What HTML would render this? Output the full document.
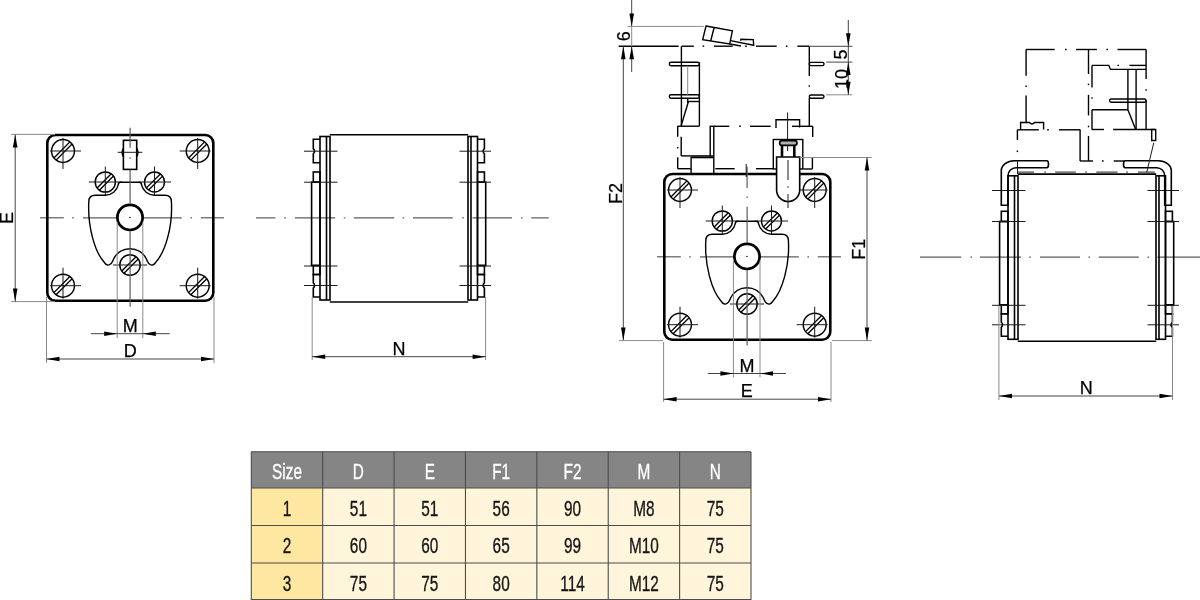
<!DOCTYPE html>
<html><head><meta charset="utf-8"><style>
html,body{margin:0;padding:0;background:#fff;width:1200px;height:600px;overflow:hidden}
svg{position:absolute;left:0;top:0;will-change:transform}
.k{stroke:#000;stroke-width:1.4;fill:none}
.ks{stroke:#000;stroke-width:1.45;fill:none}
.kl{stroke:#000;stroke-width:1.35;fill:none}
.kt{stroke:#000;stroke-width:2.6;fill:none}
.km{stroke:#000;stroke-width:1.6;fill:none}
.kw{stroke:#000;stroke-width:1.6;fill:#fff}
.x{stroke:#1a1a1a;stroke-width:1;fill:none}
.c{stroke:#5c5c5c;stroke-width:1.2;fill:none}
.g{stroke:#8a8a8a;stroke-width:1;fill:none}
.d{stroke:#444;stroke-width:1;fill:none}
.ar{fill:#000;stroke:none}
.t{font-family:"Liberation Sans",sans-serif;fill:#000;stroke:#000;stroke-width:0.25}
</style></head><body>
<svg width="1200" height="600" viewBox="0 0 1200 600">
<defs><g id="face">
<line class="c" x1="40" y1="217.8" x2="63.8" y2="217.8"/>
<line class="c" x1="72.2" y1="217.8" x2="73.8" y2="217.8"/>
<line class="c" x1="83" y1="217.8" x2="181.8" y2="217.8"/>
<line class="c" x1="190.4" y1="217.8" x2="192" y2="217.8"/>
<line class="c" x1="200.8" y1="217.8" x2="224" y2="217.8"/>
<rect class="kt" x="47.3" y="135" width="166" height="165.7" rx="8" ry="8"/>
<circle class="ks" cx="63" cy="151" r="11.45"/>
<line class="kl" x1="72.12" y1="144.07" x2="56.07" y2="160.12"/>
<line class="kl" x1="69.93" y1="141.88" x2="53.88" y2="157.93"/>
<line class="x" x1="50" y1="151" x2="81" y2="151"/>
<line class="x" x1="63" y1="138" x2="63" y2="169"/>
<circle class="ks" cx="197.7" cy="151" r="11.45"/>
<line class="kl" x1="206.82" y1="144.07" x2="190.77" y2="160.12"/>
<line class="kl" x1="204.63" y1="141.88" x2="188.58" y2="157.93"/>
<line class="x" x1="179.7" y1="151" x2="210.7" y2="151"/>
<line class="x" x1="197.7" y1="138" x2="197.7" y2="169"/>
<circle class="ks" cx="63" cy="285.7" r="11.45"/>
<line class="kl" x1="72.12" y1="278.77" x2="56.07" y2="294.82"/>
<line class="kl" x1="69.93" y1="276.58" x2="53.88" y2="292.63"/>
<line class="x" x1="50" y1="285.7" x2="81" y2="285.7"/>
<line class="x" x1="63" y1="267.7" x2="63" y2="298.7"/>
<circle class="ks" cx="197.7" cy="285.7" r="11.45"/>
<line class="kl" x1="206.82" y1="278.77" x2="190.77" y2="294.82"/>
<line class="kl" x1="204.63" y1="276.58" x2="188.58" y2="292.63"/>
<line class="x" x1="179.7" y1="285.7" x2="210.7" y2="285.7"/>
<line class="x" x1="197.7" y1="267.7" x2="197.7" y2="298.7"/>
<circle class="ks" cx="105.3" cy="182" r="10.1"/>
<line class="kl" x1="113.45" y1="176.04" x2="99.34" y2="190.15"/>
<line class="kl" x1="111.26" y1="173.85" x2="97.15" y2="187.96"/>
<line class="x" x1="88.8" y1="182" x2="121.8" y2="182"/>
<line class="x" x1="105.3" y1="166.5" x2="105.3" y2="195.5"/>
<circle class="ks" cx="154.5" cy="182" r="10"/>
<line class="kl" x1="162.58" y1="176.11" x2="148.61" y2="190.08"/>
<line class="kl" x1="160.39" y1="173.92" x2="146.42" y2="187.89"/>
<line class="x" x1="138" y1="182" x2="171" y2="182"/>
<line class="x" x1="154.5" y1="166.5" x2="154.5" y2="195.5"/>
<circle class="ks" cx="130" cy="265" r="10.2"/>
<line class="kl" x1="138.22" y1="258.97" x2="123.97" y2="273.22"/>
<line class="kl" x1="136.03" y1="256.78" x2="121.78" y2="271.03"/>
<line class="x" x1="113" y1="265" x2="147" y2="265"/>
<path class="k" d="M120.5,182.2 L139.2,182.2 Q141.5,182.2 141.5,184.7 A13.3 13.3 0 0 0 154.5,195.3 L165,195.3 Q171.4,195.3 171.4,201.8 C172.9,227 165,252 156,262 Q152.5,267.5 148.6,263.2 Q147,261.2 146.3,258.8 A18.2 18.2 0 0 0 113.7,258.8 Q113,261.2 111.4,263.2 Q107.5,267.5 104,262 C95,252 87.5,227 88.8,201.8 Q88.8,195.3 95.2,195.3 L105.3,195.3 A13.3 13.3 0 0 0 118.3,184.7 Q118.3,182.2 120.5,182.2 Z"/>
<circle cx="130" cy="217.4" r="12.6" fill="#fff" stroke="#000" stroke-width="2.7"/>
<line class="x" x1="129.2" y1="217.4" x2="130.8" y2="217.4"/>
</g></defs>
<use href="#face"/>
<rect class="km" x="123.4" y="140.3" width="13.3" height="29.1"/>
<line class="x" x1="117.7" y1="152.3" x2="142.3" y2="152.3"/>
<path class="k" d="M123.4,148.3 Q120.8,152.3 123.4,156.7 M136.7,148.3 Q139.3,152.3 136.7,156.7"/>
<line class="c" x1="130.1" y1="127.7" x2="130.1" y2="147.7"/>
<line class="c" x1="130.1" y1="157.2" x2="130.1" y2="158.8"/>
<line class="c" x1="130.1" y1="169.4" x2="130.1" y2="204"/>
<line class="c" x1="130.1" y1="230.8" x2="130.1" y2="306.7"/>
<line class="c" x1="256" y1="217.9" x2="275.5" y2="217.9"/>
<line class="c" x1="284.2" y1="217.9" x2="285.8" y2="217.9"/>
<line class="c" x1="295" y1="217.9" x2="335.2" y2="217.9"/>
<line class="c" x1="343.8" y1="217.9" x2="345.4" y2="217.9"/>
<line class="c" x1="353.9" y1="217.9" x2="394.2" y2="217.9"/>
<line class="c" x1="402.7" y1="217.9" x2="404.3" y2="217.9"/>
<line class="c" x1="413" y1="217.9" x2="452.7" y2="217.9"/>
<line class="c" x1="462.2" y1="217.9" x2="463.8" y2="217.9"/>
<line class="c" x1="472.5" y1="217.9" x2="512" y2="217.9"/>
<line class="c" x1="520.9" y1="217.9" x2="522.5" y2="217.9"/>
<line class="c" x1="531.2" y1="217.9" x2="548.8" y2="217.9"/>
<line class="g" x1="117.2" y1="222" x2="117.2" y2="338"/>
<line class="g" x1="142.8" y1="222" x2="142.8" y2="338"/>
<line class="g" x1="11" y1="134.4" x2="55" y2="134.4"/>
<line class="g" x1="11" y1="301.6" x2="55" y2="301.6"/>
<line class="d" x1="15.2" y1="134.6" x2="15.2" y2="301.6"/>
<path class="ar" d="M15.2,134.6 L17.5,147.6 L12.9,147.6 Z"/>
<path class="ar" d="M15.2,301.6 L12.9,288.6 L17.5,288.6 Z"/>
<text class="t" transform="translate(12.7 218.1) rotate(-90)" text-anchor="middle" font-size="18">E</text>
<line class="g" x1="46.5" y1="297" x2="46.5" y2="363"/>
<line class="g" x1="214" y1="297" x2="214" y2="363"/>
<line class="d" x1="46.5" y1="359" x2="214" y2="359"/>
<path class="ar" d="M46.5,359 L59.5,356.7 L59.5,361.3 Z"/>
<path class="ar" d="M214,359 L201,361.3 L201,356.7 Z"/>
<text class="t" x="130.2" y="357" text-anchor="middle" font-size="18">D</text>
<line class="d" x1="90.8" y1="333.7" x2="169.7" y2="333.7"/>
<path class="ar" d="M117.2,333.7 L104.2,336 L104.2,331.4 Z"/>
<path class="ar" d="M142.8,333.7 L155.8,331.4 L155.8,336 Z"/>
<text class="t" x="130.2" y="332" text-anchor="middle" font-size="18">M</text>
<line class="km" x1="329.8" y1="134.8" x2="468.2" y2="134.8"/>
<line class="km" x1="329.8" y1="302" x2="468.2" y2="302"/>
<rect class="km" x="320" y="136.5" width="10" height="163.5"/>
<line class="km" x1="326.5" y1="136.5" x2="326.5" y2="300"/>
<rect class="km" x="468" y="136.5" width="9.5" height="163.5"/>
<line class="km" x1="471" y1="136.5" x2="471" y2="300"/>
<path class="km" d="M320,139.3 L313.3,139.3 L313.3,148.6 Q315.9,151.2 313.3,153.8 L313.3,162.7 L320,162.7"/>
<path class="km" d="M477.5,139.3 L484.4,139.3 L484.4,148.6 Q481.8,151.2 484.4,153.8 L484.4,162.7 L477.5,162.7"/>
<rect class="km" x="313.3" y="172" width="6.7" height="10.2"/>
<rect class="km" x="477.5" y="172" width="6.9" height="10.2"/>
<rect class="km" x="311.6" y="182.2" width="8.4" height="83.3"/>
<rect class="km" x="477.5" y="182.2" width="8.2" height="83.3"/>
<rect class="km" x="313.3" y="265.5" width="6.7" height="9"/>
<rect class="km" x="477.5" y="265.5" width="6.9" height="9"/>
<path class="km" d="M320,274.5 L313.3,274.5 L313.3,282.9 Q315.9,285.5 313.3,288.1 L313.3,297 L320,297"/>
<path class="km" d="M477.5,274.5 L484.4,274.5 L484.4,282.9 Q481.8,285.5 484.4,288.1 L484.4,297 L477.5,297"/>
<line class="x" x1="304" y1="151.2" x2="337.5" y2="151.2"/>
<line class="x" x1="459.5" y1="151.2" x2="491" y2="151.2"/>
<line class="x" x1="304" y1="182.2" x2="337.5" y2="182.2"/>
<line class="x" x1="459.5" y1="182.2" x2="491" y2="182.2"/>
<line class="x" x1="304" y1="266" x2="337.5" y2="266"/>
<line class="x" x1="459.5" y1="266" x2="491" y2="266"/>
<line class="x" x1="304" y1="285.5" x2="337.5" y2="285.5"/>
<line class="x" x1="459.5" y1="285.5" x2="491" y2="285.5"/>
<line class="g" x1="312.2" y1="297" x2="312.2" y2="360"/>
<line class="g" x1="485.6" y1="297" x2="485.6" y2="360"/>
<line class="d" x1="312.2" y1="356.7" x2="485.6" y2="356.7"/>
<path class="ar" d="M312.2,356.7 L325.2,354.4 L325.2,359 Z"/>
<path class="ar" d="M485.6,356.7 L472.6,359 L472.6,354.4 Z"/>
<text class="t" x="399" y="355" text-anchor="middle" font-size="18">N</text>
<use href="#face" transform="translate(617 39)"/>
<line class="c" x1="747.1" y1="166.7" x2="747.1" y2="188"/>
<line class="c" x1="747.1" y1="196.5" x2="747.1" y2="198.1"/>
<line class="c" x1="747.1" y1="206.7" x2="747.1" y2="243"/>
<line class="c" x1="747.1" y1="269.8" x2="747.1" y2="345.5"/>
<line class="k" x1="618.7" y1="46.2" x2="678.7" y2="46.2"/>
<line class="k" x1="681.6" y1="46.2" x2="693.8" y2="46.2"/>
<line class="k" x1="702.6" y1="46.2" x2="704.2" y2="46.2"/>
<line class="k" x1="714" y1="46.2" x2="732.7" y2="46.2"/>
<line class="k" x1="745.2" y1="46.2" x2="746.8" y2="46.2"/>
<line class="k" x1="756" y1="46.2" x2="776.7" y2="46.2"/>
<line class="k" x1="785.9" y1="46.2" x2="787.5" y2="46.2"/>
<line class="k" x1="797.3" y1="46.2" x2="809.3" y2="46.2"/>
<line class="g" x1="627.7" y1="26.4" x2="704" y2="26.4"/>
<path class="k" d="M706,26 L732.4,30.9 L729.7,44 L702.7,39.7 Z M714,28 L710.7,41"/>
<path class="k" d="M730.5,40.6 L753.5,45.3 M729.7,44 L741,46"/>
<path class="k" d="M740.4,40.8 L741,39.3 L753.3,39.6 L753.7,46"/>
<line class="k" x1="681.4" y1="46.2" x2="681.4" y2="126.2"/>
<rect class="k" x="669.3" y="62.2" width="30.1" height="3.5" rx="1.7"/>
<rect class="k" x="669.3" y="94.8" width="30.1" height="3.5" rx="1.7"/>
<line class="k" x1="699.4" y1="62.2" x2="699.4" y2="126.2"/>
<line class="g" x1="687.7" y1="65.7" x2="687.7" y2="94.8"/>
<line class="k" x1="687.7" y1="98.3" x2="687.7" y2="103"/>
<line class="k" x1="688" y1="101.5" x2="699.4" y2="101.5"/>
<line class="k" x1="688.3" y1="102" x2="681.2" y2="125.5"/>
<line class="k" x1="677.7" y1="126.2" x2="699.4" y2="126.2"/>
<line class="k" x1="677.7" y1="126" x2="677.7" y2="136.8"/>
<line class="k" x1="677.7" y1="146.9" x2="677.7" y2="148.5"/>
<line class="k" x1="677.7" y1="157.3" x2="677.7" y2="168.7"/>
<line class="k" x1="681.2" y1="136.8" x2="681.2" y2="155.9"/>
<line class="k" x1="681.2" y1="155.9" x2="710.2" y2="155.9"/>
<rect class="k" x="710.2" y="126.3" width="3.6" height="29.7"/>
<line class="k" x1="713.8" y1="126.3" x2="729.3" y2="126.3"/>
<line class="k" x1="739.2" y1="126.3" x2="740.8" y2="126.3"/>
<line class="k" x1="750" y1="126.3" x2="770.7" y2="126.3"/>
<line class="k" x1="792" y1="126.3" x2="812.7" y2="126.3"/>
<path class="k" d="M776,128 L776,119.7 L799.6,119.7 L799.6,127.5"/>
<line class="k" x1="812.7" y1="126.3" x2="812.7" y2="137"/>
<line class="k" x1="809.3" y1="46.2" x2="809.3" y2="76"/>
<line class="k" x1="809.3" y1="85.2" x2="809.3" y2="86.8"/>
<line class="k" x1="809.3" y1="98" x2="809.3" y2="126.3"/>
<rect class="k" x="809.3" y="62.4" width="14.7" height="3.2" rx="1.6"/>
<rect class="k" x="809.3" y="95" width="14.7" height="3.2" rx="1.6"/>
<line class="k" x1="677.7" y1="168.7" x2="691" y2="168.7"/>
<line class="k" x1="715.3" y1="168.7" x2="734.7" y2="168.7"/>
<line class="k" x1="756" y1="168.7" x2="773.3" y2="168.7"/>
<line class="x" x1="746.2" y1="164" x2="746.2" y2="177"/>
<rect class="k" x="691.1" y="157.3" width="22.7" height="16.7"/>
<line class="km" x1="691.1" y1="157.5" x2="713.8" y2="157.5"/>
<rect class="k" x="773.3" y="139.5" width="29.5" height="29.5"/>
<line class="k" x1="803.3" y1="169" x2="812.4" y2="169"/>
<line class="k" x1="812.4" y1="157" x2="812.4" y2="169"/>
<line class="x" x1="787.6" y1="112.5" x2="787.6" y2="139.5"/>
<line class="kt" x1="782" y1="141" x2="782" y2="157"/>
<line class="kt" x1="794.3" y1="141" x2="794.3" y2="157"/>
<rect class="n" x="779.6" y="140.6" width="17.4" height="4.8" rx="2.4" fill="#b0b0b0" stroke="#000" stroke-width="1.6"/>
<line class="x" x1="787.6" y1="145" x2="787.6" y2="151"/>
<path class="kw" d="M776.6,157 L776.6,190 A11.55 11.55 0 0 0 799.7,190 L799.7,157 Z"/>
<line class="x" x1="788" y1="160" x2="788" y2="180"/>
<line class="x" x1="788" y1="186.2" x2="788" y2="187.8"/>
<line class="x" x1="788" y1="194" x2="788" y2="208"/>
<line class="d" x1="631.7" y1="0" x2="631.7" y2="26.4"/>
<line class="d" x1="631.7" y1="46.3" x2="631.7" y2="72"/>
<line class="g" x1="631.7" y1="26.4" x2="631.7" y2="46.3"/>
<path class="ar" d="M631.7,26.4 L629.4,13.4 L634,13.4 Z"/>
<path class="ar" d="M631.7,46.3 L634,59.3 L629.4,59.3 Z"/>
<text class="t" transform="translate(630.3 36.2) rotate(-90)" text-anchor="middle" font-size="18">6</text>
<line class="d" x1="623.3" y1="46.3" x2="623.3" y2="340.5"/>
<path class="ar" d="M623.3,46.3 L625.6,59.3 L621,59.3 Z"/>
<path class="ar" d="M623.3,340.5 L621,327.5 L625.6,327.5 Z"/>
<line class="g" x1="618.7" y1="340.6" x2="663" y2="340.6"/>
<text class="t" transform="translate(621.8 193.6) rotate(-90)" text-anchor="middle" font-size="18">F2</text>
<line class="g" x1="799.7" y1="157.5" x2="871.7" y2="157.5"/>
<line class="g" x1="832" y1="340.6" x2="871.8" y2="340.6"/>
<line class="d" x1="867" y1="157.5" x2="867" y2="340.5"/>
<path class="ar" d="M867,157.5 L869.3,170.5 L864.7,170.5 Z"/>
<path class="ar" d="M867,340.5 L864.7,327.5 L869.3,327.5 Z"/>
<text class="t" transform="translate(865 249.3) rotate(-90)" text-anchor="middle" font-size="18">F1</text>
<line class="d" x1="809.3" y1="46.3" x2="852.4" y2="46.3"/>
<line class="d" x1="826.2" y1="62.1" x2="852.4" y2="62.1"/>
<line class="g" x1="826.2" y1="94.8" x2="852.4" y2="94.8"/>
<line class="d" x1="848.3" y1="20" x2="848.3" y2="94.8"/>
<path class="ar" d="M848.3,46.3 L846,33.3 L850.6,33.3 Z"/>
<path class="ar" d="M848.3,62.1 L850.6,75.1 L846,75.1 Z"/>
<path class="ar" d="M848.3,94.8 L846,81.8 L850.6,81.8 Z"/>
<text class="t" transform="translate(846.8 54.5) rotate(-90)" text-anchor="middle" font-size="18">5</text>
<text class="t" transform="translate(847.5 79) rotate(-90)" text-anchor="middle" font-size="18">10</text>
<line class="g" x1="663.6" y1="342" x2="663.6" y2="402"/>
<line class="g" x1="831" y1="342" x2="831" y2="402"/>
<line class="d" x1="663.6" y1="399.2" x2="831" y2="399.2"/>
<path class="ar" d="M663.6,399.2 L676.6,396.9 L676.6,401.5 Z"/>
<path class="ar" d="M831,399.2 L818,401.5 L818,396.9 Z"/>
<text class="t" x="746.8" y="397.1" text-anchor="middle" font-size="18">E</text>
<line class="g" x1="733.4" y1="261" x2="733.4" y2="377.5"/>
<line class="g" x1="760" y1="261" x2="760" y2="377.5"/>
<line class="d" x1="707.8" y1="373.5" x2="786" y2="373.5"/>
<path class="ar" d="M733.4,373.5 L720.4,375.8 L720.4,371.2 Z"/>
<path class="ar" d="M760,373.5 L773,371.2 L773,375.8 Z"/>
<text class="t" x="747" y="371.5" text-anchor="middle" font-size="18">M</text>
<line class="c" x1="920" y1="257.2" x2="961.2" y2="257.2"/>
<line class="c" x1="970.4" y1="257.2" x2="972" y2="257.2"/>
<line class="c" x1="980" y1="257.2" x2="1021" y2="257.2"/>
<line class="c" x1="1029.2" y1="257.2" x2="1030.8" y2="257.2"/>
<line class="c" x1="1040" y1="257.2" x2="1080" y2="257.2"/>
<line class="c" x1="1088.4" y1="257.2" x2="1090" y2="257.2"/>
<line class="c" x1="1098.8" y1="257.2" x2="1138.8" y2="257.2"/>
<line class="c" x1="1147.4" y1="257.2" x2="1149" y2="257.2"/>
<line class="c" x1="1157.5" y1="257.2" x2="1200" y2="257.2"/>
<line class="km" x1="1017.8" y1="174.1" x2="1156.2" y2="174.1"/>
<line class="km" x1="1017.8" y1="341.3" x2="1156.2" y2="341.3"/>
<rect class="km" x="1008" y="175.8" width="10" height="163.5"/>
<line class="km" x1="1014.5" y1="175.8" x2="1014.5" y2="339.3"/>
<rect class="km" x="1156" y="175.8" width="9.5" height="163.5"/>
<line class="km" x1="1159" y1="175.8" x2="1159" y2="339.3"/>
<rect class="km" x="1001.3" y="211.3" width="6.7" height="10.2"/>
<rect class="km" x="1165.5" y="211.3" width="6.9" height="10.2"/>
<rect class="km" x="999.6" y="221.5" width="8.4" height="83.3"/>
<rect class="km" x="1165.5" y="221.5" width="8.2" height="83.3"/>
<rect class="km" x="1001.3" y="304.8" width="6.7" height="9"/>
<rect class="km" x="1165.5" y="304.8" width="6.9" height="9"/>
<path class="km" d="M1008,313.8 L1001.3,313.8 L1001.3,322.2 Q1003.9,324.8 1001.3,327.4 L1001.3,336.3 L1008,336.3"/>
<path class="km" d="M1165.5,313.8 L1172.4,313.8 L1172.4,322.2 Q1169.8,324.8 1172.4,327.4 L1172.4,336.3 L1165.5,336.3"/>
<line class="x" x1="992" y1="190.5" x2="1025.5" y2="190.5"/>
<line class="x" x1="1147.5" y1="190.5" x2="1179" y2="190.5"/>
<line class="x" x1="992" y1="221.5" x2="1025.5" y2="221.5"/>
<line class="x" x1="1147.5" y1="221.5" x2="1179" y2="221.5"/>
<line class="x" x1="992" y1="305.3" x2="1025.5" y2="305.3"/>
<line class="x" x1="1147.5" y1="305.3" x2="1179" y2="305.3"/>
<line class="x" x1="992" y1="324.8" x2="1025.5" y2="324.8"/>
<line class="x" x1="1147.5" y1="324.8" x2="1179" y2="324.8"/>
<path class="km" d="M1046.7,160.7 L1014.3,160.7 A13 10 0 0 0 1001.3,170.7 L1001.3,205.3 L1008,205.3 L1008,175.7 A8 8 0 0 1 1016,167.7 L1046.7,167.7 Q1048.5,167.7 1048.5,164.2 Q1048.5,160.7 1046.7,160.7 Z"/>
<path class="km" d="M1125.3,160.7 L1158.3,160.7 A13 10 0 0 1 1171.3,170.7 L1171.3,205.3 L1164.7,205.3 L1164.7,175.7 A8 8 0 0 0 1156.7,167.7 L1125.3,167.7 Q1123.5,167.7 1123.5,164.2 Q1123.5,160.7 1125.3,160.7 Z"/>
<line class="x" x1="1017.5" y1="172.1" x2="1034" y2="172.1"/>
<line class="x" x1="1044.2" y1="172.1" x2="1045.8" y2="172.1"/>
<line class="x" x1="1055.2" y1="172.1" x2="1075.8" y2="172.1"/>
<line class="x" x1="1085.2" y1="172.1" x2="1086.8" y2="172.1"/>
<line class="x" x1="1096.3" y1="172.1" x2="1117.5" y2="172.1"/>
<line class="x" x1="1126.2" y1="172.1" x2="1127.8" y2="172.1"/>
<line class="x" x1="1138" y1="172.1" x2="1154.8" y2="172.1"/>
<line class="x" x1="1017.5" y1="160.7" x2="1017.5" y2="174"/>
<line class="k" x1="1026.1" y1="49.5" x2="1054.7" y2="49.5"/>
<line class="k" x1="1065" y1="49.5" x2="1066.6" y2="49.5"/>
<line class="k" x1="1076.1" y1="49.5" x2="1096.9" y2="49.5"/>
<line class="k" x1="1106.4" y1="49.5" x2="1108" y2="49.5"/>
<line class="k" x1="1117.5" y1="49.5" x2="1146.1" y2="49.5"/>
<line class="k" x1="1026.1" y1="49.5" x2="1026.1" y2="75.7"/>
<line class="k" x1="1026.1" y1="85.5" x2="1026.1" y2="87.1"/>
<line class="k" x1="1026.1" y1="95.6" x2="1026.1" y2="122.5"/>
<line class="k" x1="1088.5" y1="49.5" x2="1088.5" y2="74"/>
<line class="k" x1="1088.5" y1="83.6" x2="1088.5" y2="85.2"/>
<line class="k" x1="1088.5" y1="94.8" x2="1088.5" y2="115.4"/>
<line class="k" x1="1088.5" y1="125.7" x2="1088.5" y2="127.3"/>
<line class="k" x1="1088.5" y1="136" x2="1088.5" y2="161"/>
<line class="k" x1="1146.1" y1="49.5" x2="1146.1" y2="78.9"/>
<line class="k" x1="1146.1" y1="89.2" x2="1146.1" y2="90.8"/>
<line class="k" x1="1146.1" y1="100" x2="1146.1" y2="129.7"/>
<line class="k" x1="1092" y1="65.4" x2="1092" y2="87.6"/>
<line class="k" x1="1092" y1="97.2" x2="1092" y2="98.8"/>
<line class="k" x1="1092" y1="109.8" x2="1092" y2="129.7"/>
<path class="k" d="M1092,65.4 L1108.8,65.4 L1110.5,69.4 L1146,69.4"/>
<line class="k" x1="1117.5" y1="65.4" x2="1119.1" y2="65.4"/>
<line class="k" x1="1129.4" y1="65.4" x2="1146" y2="65.4"/>
<line class="k" x1="1127.9" y1="69.4" x2="1127.9" y2="109.8"/>
<line class="k" x1="1136.1" y1="69.4" x2="1136.1" y2="129.7"/>
<rect class="k" x="1109.6" y="99" width="36.4" height="3.2" rx="1.6"/>
<line class="k" x1="1092" y1="109.8" x2="1127.9" y2="109.8"/>
<line class="k" x1="1127.9" y1="109.8" x2="1135.8" y2="129.7"/>
<line class="k" x1="1092" y1="129.5" x2="1104" y2="129.5"/>
<line class="k" x1="1113.1" y1="129.5" x2="1154.8" y2="129.5"/>
<rect class="k" x="1151.7" y="129.5" width="4" height="11"/>
<line class="x" x1="1153.8" y1="142.6" x2="1146.7" y2="172.4"/>
<path class="k" d="M1020.6,129.5 L1020.6,122.5 L1029.5,122.5 Q1032,125.5 1034.5,122.5 L1043.6,122.5 L1043.6,129.5"/>
<line class="k" x1="1017.4" y1="129.8" x2="1038.8" y2="129.8"/>
<line class="k" x1="1047.2" y1="129.8" x2="1048.8" y2="129.8"/>
<line class="k" x1="1059" y1="129.8" x2="1080.1" y2="129.8"/>
<line class="k" x1="1017.4" y1="129.8" x2="1017.4" y2="140"/>
<line class="k" x1="1017.4" y1="150.5" x2="1017.4" y2="152.1"/>
<line class="k" x1="1080.1" y1="129.5" x2="1080.1" y2="161"/>
<line class="k" x1="1080.1" y1="161" x2="1093" y2="161"/>
<line class="k" x1="1102" y1="161" x2="1103.6" y2="161"/>
<line class="k" x1="1113.7" y1="161" x2="1124" y2="161"/>
<line class="g" x1="998.9" y1="306" x2="998.9" y2="400"/>
<line class="g" x1="1172.5" y1="306" x2="1172.5" y2="400"/>
<line class="d" x1="999" y1="396" x2="1172.5" y2="396"/>
<path class="ar" d="M999,396 L1012,393.7 L1012,398.3 Z"/>
<path class="ar" d="M1172.5,396 L1159.5,398.3 L1159.5,393.7 Z"/>
<text class="t" x="1086.3" y="394" text-anchor="middle" font-size="18">N</text>
</svg>
<svg width="1200" height="600" viewBox="0 0 1200 600" style="position:absolute;left:0;top:0">
<rect class="n" x="251.3" y="451.7" width="499.7" height="36.3" fill="#858585" stroke="none"/>
<rect class="n" x="251.3" y="488" width="71.39" height="37.5" fill="#fde7a1" stroke="none"/>
<rect class="n" x="322.69" y="488" width="428.31" height="37.5" fill="#fef5da" stroke="none"/>
<rect class="n" x="251.3" y="525.5" width="71.39" height="37.5" fill="#fde7a1" stroke="none"/>
<rect class="n" x="322.69" y="525.5" width="428.31" height="37.5" fill="#fef5da" stroke="none"/>
<rect class="n" x="251.3" y="563" width="71.39" height="37.5" fill="#fde7a1" stroke="none"/>
<rect class="n" x="322.69" y="563" width="428.31" height="37.5" fill="#fef5da" stroke="none"/>
<line x1="251.3" y1="451.7" x2="251.3" y2="600" stroke="#4d4d4d" stroke-width="1.1"/>
<line x1="322.69" y1="451.7" x2="322.69" y2="600" stroke="#4d4d4d" stroke-width="1.1"/>
<line x1="394.07" y1="451.7" x2="394.07" y2="600" stroke="#4d4d4d" stroke-width="1.1"/>
<line x1="465.46" y1="451.7" x2="465.46" y2="600" stroke="#4d4d4d" stroke-width="1.1"/>
<line x1="536.84" y1="451.7" x2="536.84" y2="600" stroke="#4d4d4d" stroke-width="1.1"/>
<line x1="608.23" y1="451.7" x2="608.23" y2="600" stroke="#4d4d4d" stroke-width="1.1"/>
<line x1="679.61" y1="451.7" x2="679.61" y2="600" stroke="#4d4d4d" stroke-width="1.1"/>
<line x1="751" y1="451.7" x2="751" y2="600" stroke="#4d4d4d" stroke-width="1.1"/>
<line x1="251.3" y1="451.7" x2="751" y2="451.7" stroke="#4d4d4d" stroke-width="1.1"/>
<line x1="251.3" y1="488.0" x2="751" y2="488.0" stroke="#4d4d4d" stroke-width="1.1"/>
<line x1="251.3" y1="525.5" x2="751" y2="525.5" stroke="#4d4d4d" stroke-width="1.1"/>
<line x1="251.3" y1="563.0" x2="751" y2="563.0" stroke="#4d4d4d" stroke-width="1.1"/>
<line x1="251.3" y1="599.5" x2="751" y2="599.5" stroke="#4d4d4d" stroke-width="1.1"/>
<text x="0" y="0" transform="translate(286.99 478.5) scale(0.69 1)" text-anchor="middle" font-family="Liberation Sans, sans-serif" font-size="22.3" fill="#fff" stroke="#fff" stroke-width="0.35">Size</text>
<text x="0" y="0" transform="translate(358.38 478.5) scale(0.69 1)" text-anchor="middle" font-family="Liberation Sans, sans-serif" font-size="22.3" fill="#fff" stroke="#fff" stroke-width="0.35">D</text>
<text x="0" y="0" transform="translate(429.76 478.5) scale(0.69 1)" text-anchor="middle" font-family="Liberation Sans, sans-serif" font-size="22.3" fill="#fff" stroke="#fff" stroke-width="0.35">E</text>
<text x="0" y="0" transform="translate(501.15 478.5) scale(0.69 1)" text-anchor="middle" font-family="Liberation Sans, sans-serif" font-size="22.3" fill="#fff" stroke="#fff" stroke-width="0.35">F1</text>
<text x="0" y="0" transform="translate(572.54 478.5) scale(0.69 1)" text-anchor="middle" font-family="Liberation Sans, sans-serif" font-size="22.3" fill="#fff" stroke="#fff" stroke-width="0.35">F2</text>
<text x="0" y="0" transform="translate(643.92 478.5) scale(0.69 1)" text-anchor="middle" font-family="Liberation Sans, sans-serif" font-size="22.3" fill="#fff" stroke="#fff" stroke-width="0.35">M</text>
<text x="0" y="0" transform="translate(715.31 478.5) scale(0.69 1)" text-anchor="middle" font-family="Liberation Sans, sans-serif" font-size="22.3" fill="#fff" stroke="#fff" stroke-width="0.35">N</text>
<text x="0" y="0" transform="translate(286.99 515.6) scale(0.69 1)" text-anchor="middle" font-family="Liberation Sans, sans-serif" font-size="22.3" fill="#151515" stroke="#151515" stroke-width="0.35">1</text>
<text x="0" y="0" transform="translate(358.38 515.6) scale(0.69 1)" text-anchor="middle" font-family="Liberation Sans, sans-serif" font-size="22.3" fill="#151515" stroke="#151515" stroke-width="0.35">51</text>
<text x="0" y="0" transform="translate(429.76 515.6) scale(0.69 1)" text-anchor="middle" font-family="Liberation Sans, sans-serif" font-size="22.3" fill="#151515" stroke="#151515" stroke-width="0.35">51</text>
<text x="0" y="0" transform="translate(501.15 515.6) scale(0.69 1)" text-anchor="middle" font-family="Liberation Sans, sans-serif" font-size="22.3" fill="#151515" stroke="#151515" stroke-width="0.35">56</text>
<text x="0" y="0" transform="translate(572.54 515.6) scale(0.69 1)" text-anchor="middle" font-family="Liberation Sans, sans-serif" font-size="22.3" fill="#151515" stroke="#151515" stroke-width="0.35">90</text>
<text x="0" y="0" transform="translate(643.92 515.6) scale(0.69 1)" text-anchor="middle" font-family="Liberation Sans, sans-serif" font-size="22.3" fill="#151515" stroke="#151515" stroke-width="0.35">M8</text>
<text x="0" y="0" transform="translate(715.31 515.6) scale(0.69 1)" text-anchor="middle" font-family="Liberation Sans, sans-serif" font-size="22.3" fill="#151515" stroke="#151515" stroke-width="0.35">75</text>
<text x="0" y="0" transform="translate(286.99 553.1) scale(0.69 1)" text-anchor="middle" font-family="Liberation Sans, sans-serif" font-size="22.3" fill="#151515" stroke="#151515" stroke-width="0.35">2</text>
<text x="0" y="0" transform="translate(358.38 553.1) scale(0.69 1)" text-anchor="middle" font-family="Liberation Sans, sans-serif" font-size="22.3" fill="#151515" stroke="#151515" stroke-width="0.35">60</text>
<text x="0" y="0" transform="translate(429.76 553.1) scale(0.69 1)" text-anchor="middle" font-family="Liberation Sans, sans-serif" font-size="22.3" fill="#151515" stroke="#151515" stroke-width="0.35">60</text>
<text x="0" y="0" transform="translate(501.15 553.1) scale(0.69 1)" text-anchor="middle" font-family="Liberation Sans, sans-serif" font-size="22.3" fill="#151515" stroke="#151515" stroke-width="0.35">65</text>
<text x="0" y="0" transform="translate(572.54 553.1) scale(0.69 1)" text-anchor="middle" font-family="Liberation Sans, sans-serif" font-size="22.3" fill="#151515" stroke="#151515" stroke-width="0.35">99</text>
<text x="0" y="0" transform="translate(643.92 553.1) scale(0.69 1)" text-anchor="middle" font-family="Liberation Sans, sans-serif" font-size="22.3" fill="#151515" stroke="#151515" stroke-width="0.35">M10</text>
<text x="0" y="0" transform="translate(715.31 553.1) scale(0.69 1)" text-anchor="middle" font-family="Liberation Sans, sans-serif" font-size="22.3" fill="#151515" stroke="#151515" stroke-width="0.35">75</text>
<text x="0" y="0" transform="translate(286.99 590.6) scale(0.69 1)" text-anchor="middle" font-family="Liberation Sans, sans-serif" font-size="22.3" fill="#151515" stroke="#151515" stroke-width="0.35">3</text>
<text x="0" y="0" transform="translate(358.38 590.6) scale(0.69 1)" text-anchor="middle" font-family="Liberation Sans, sans-serif" font-size="22.3" fill="#151515" stroke="#151515" stroke-width="0.35">75</text>
<text x="0" y="0" transform="translate(429.76 590.6) scale(0.69 1)" text-anchor="middle" font-family="Liberation Sans, sans-serif" font-size="22.3" fill="#151515" stroke="#151515" stroke-width="0.35">75</text>
<text x="0" y="0" transform="translate(501.15 590.6) scale(0.69 1)" text-anchor="middle" font-family="Liberation Sans, sans-serif" font-size="22.3" fill="#151515" stroke="#151515" stroke-width="0.35">80</text>
<text x="0" y="0" transform="translate(572.54 590.6) scale(0.69 1)" text-anchor="middle" font-family="Liberation Sans, sans-serif" font-size="22.3" fill="#151515" stroke="#151515" stroke-width="0.35">114</text>
<text x="0" y="0" transform="translate(643.92 590.6) scale(0.69 1)" text-anchor="middle" font-family="Liberation Sans, sans-serif" font-size="22.3" fill="#151515" stroke="#151515" stroke-width="0.35">M12</text>
<text x="0" y="0" transform="translate(715.31 590.6) scale(0.69 1)" text-anchor="middle" font-family="Liberation Sans, sans-serif" font-size="22.3" fill="#151515" stroke="#151515" stroke-width="0.35">75</text>
</svg>
</body></html>
